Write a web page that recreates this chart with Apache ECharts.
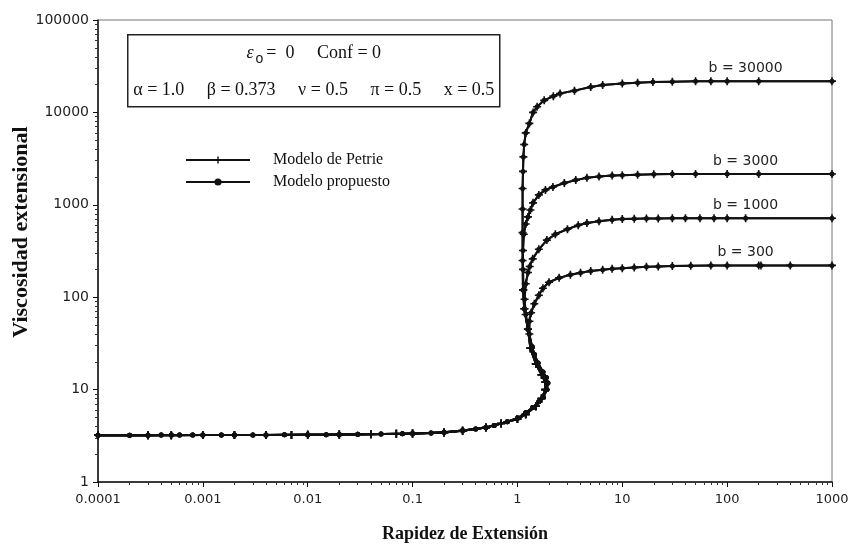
<!DOCTYPE html>
<html>
<head>
<meta charset="utf-8">
<script src="https://cdn.jsdelivr.net/npm/echarts@6/dist/echarts.min.js"></script>
<style>
	html, body { margin: 0; padding: 0; background: #fff; }
	#chart { width: 848px; height: 548px; }
</style>
</head>
<body>
<div id="chart"></div>
<script>
	// tick labels
	var xTicks = ['0.0001', '0.001', '0.01', '0.1', '1', '10', '100', '1000'];
	var yTicks = ['1', '10', '100', '1000', '10000', '100000'];
	var bLabels = ['b = 300', 'b = 1000', 'b = 3000', 'b = 30000'];

	// common lower branch (flat part and S bend)
	var stemPropuesto = [[0.0001,3.2],[0.0002,3.2],[0.0003,3.21],[0.0004,3.22],[0.0005,3.22],[0.0006,3.22],[0.0008,3.22],
		[0.001,3.23],[0.0015,3.23],[0.002,3.23],[0.003,3.23],[0.004,3.23],[0.006,3.24],[0.01,3.25],[0.015,3.25],
		[0.02,3.27],[0.03,3.28],[0.05,3.3],[0.08,3.33],[0.1,3.35],[0.15,3.4],[0.2,3.45],[0.3,3.6],[0.4,3.75],
		[0.5,3.9],[0.6,4.1],[0.8,4.5],[1.0,4.9],[1.2,5.6],[1.4,6.4],[1.6,7.4],[1.76,8.3],[1.9,10],[1.95,11.8],
		[1.88,13.5],[1.75,15.5],[1.57,19.4],[1.45,24],[1.38,29]];
	var stemPetrie = [[0.0001,3.2],[0.0003,3.2],[0.0005,3.21],[0.001,3.22],[0.002,3.22],[0.004,3.23],[0.007,3.23],
		[0.01,3.24],[0.02,3.26],[0.04,3.29],[0.07,3.32],[0.1,3.34],[0.2,3.44],[0.3,3.58],[0.5,3.88],[0.7,4.3],
		[1.0,4.8],[1.2,5.4],[1.5,6.6],[1.7,8],[1.85,10],[1.85,12],[1.7,14.5],[1.5,19],[1.33,28]];

	// upper branches, one per b
	var b300Tail = [[1.3,40],[1.3,55],[1.35,68],[1.45,85],[1.6,105],[1.75,125],[2.0,145],[2.5,162],[3.2,175],[4,184],
		[5,192],[6.5,198],[8,203],[10,206],[13,210],[17,213],[22,215],[30,217],[45,219],[70,220],[100,220],
		[200,221],[210,221],[400,221],[1000,221]];
	var b1000Tail = [[1.26,45],[1.2,65],[1.17,95],[1.2,140],[1.26,185],[1.31,215],[1.4,260],[1.6,330],[1.91,415],
		[2.3,480],[3,545],[3.8,600],[4.6,635],[6,665],[8,690],[10,700],[13,706],[17,710],[22,712],[30,714],
		[40,715],[55,715],[75,716],[100,716],[150,716],[1000,715]];
	var b3000Tail = [[1.26,45],[1.17,75],[1.14,120],[1.13,200],[1.13,320],[1.15,480],[1.2,620],[1.26,740],[1.33,880],
		[1.41,1050],[1.6,1280],[1.85,1450],[2.18,1560],[2.8,1720],[3.6,1850],[4.6,1960],[6,2020],[8,2070],
		[10,2090],[14,2120],[20,2140],[30,2150],[50,2155],[100,2155],[200,2160],[1000,2155]];
	var b30000Tail = [[1.26,45],[1.16,75],[1.13,120],[1.12,250],[1.12,500],[1.12,900],[1.12,1500],[1.13,2300],
		[1.14,3300],[1.16,4500],[1.2,6000],[1.3,7600],[1.41,10000],[1.54,11500],[1.8,13500],[2.2,15000],
		[2.55,16000],[3.5,17200],[5,18800],[6.5,19800],[10,20600],[14,21000],[19.6,21300],[30,21500],
		[50,21700],[70,21800],[100,21800],[200,21800],[1000,21800]];

	var tails = [b300Tail, b1000Tail, b3000Tail, b30000Tail];
	var plateaus = [221, 715, 2155, 21800];

	var crossPath = 'path://M4,0H6V4H10V6H6V10H4V6H0V4H4Z';
	var series = [];
	tails.forEach(function(tail, i) {
		series.push({
			name: 'Modelo de Petrie',
			type: 'line',
			data: stemPetrie.concat(tail),
			symbol: crossPath,
			symbolSize: 8,
			showAllSymbol: true,
			lineStyle: { color: '#111', width: 2 },
			itemStyle: { color: '#111' },
			z: 2
		});
		series.push({
			name: 'Modelo propuesto',
			type: 'line',
			data: stemPropuesto.concat(tail),
			symbol: 'circle',
			symbolSize: 5,
			showAllSymbol: true,
			lineStyle: { color: '#111', width: 2 },
			itemStyle: { color: '#111' },
			z: 3,
			markPoint: {
				symbol: 'circle',
				symbolSize: 0,
				label: {
					show: true,
					position: 'top',
					distance: 6,
					formatter: bLabels[i],
					fontFamily: 'DejaVu Sans',
					fontSize: 14,
					color: '#222'
				},
				data: [{ coord: [150, plateaus[i]] }]
			}
		});
	});

	var chart = echarts.init(document.getElementById('chart'));
	var option = {
		animation: false,
		backgroundColor: '#fff',
		grid: {
			left: 98, right: 16, top: 20, bottom: 66,
			outerBoundsMode: 'none',
			containLabel: false,
			show: true, borderColor: '#777', borderWidth: 1
		},
		legend: {
			data: ['Modelo de Petrie', 'Modelo propuesto'],
			orient: 'vertical',
			left: 180,
			top: 147,
			itemWidth: 64,
			itemHeight: 9,
			itemGap: 6,
			selectedMode: false,
			textStyle: { fontFamily: 'Liberation Serif', fontSize: 16, color: '#111', padding: [0, 0, 0, 18] }
		},
		xAxis: {
			type: 'log',
			logBase: 10,
			min: 0.0001,
			max: 1000,
			name: 'Rapidez de Extensión',
			nameLocation: 'middle',
			nameGap: 43,
			nameTextStyle: { fontFamily: 'Liberation Serif', fontWeight: 'bold', fontSize: 18, color: '#111' },
			axisLine: { lineStyle: { color: '#111', width: 1.5 } },
			axisTick: { length: 5, lineStyle: { color: '#111' } },
			minorTick: { show: true, splitNumber: 9, length: 3, lineStyle: { color: '#333' } },
			splitLine: { show: false },
			axisLabel: {
				fontFamily: 'DejaVu Sans', fontSize: 13, color: '#222', margin: 11,
				formatter: function(v) { return xTicks[Math.round(Math.log10(v)) + 4]; }
			}
		},
		yAxis: {
			type: 'log',
			logBase: 10,
			min: 1,
			max: 100000,
			axisLine: { lineStyle: { color: '#111', width: 1.5 } },
			axisTick: { length: 5, lineStyle: { color: '#111' } },
			minorTick: { show: true, splitNumber: 9, length: 3, lineStyle: { color: '#333' } },
			splitLine: { show: false },
			axisLabel: {
				fontFamily: 'DejaVu Sans', fontSize: 14, color: '#222', margin: 9,
				formatter: function(v) { return yTicks[Math.round(Math.log10(v))]; }
			}
		},
		graphic: [{
			type: 'text',
			x: 21,
			y: 232,
			rotation: Math.PI / 2,
			style: {
				text: 'Viscosidad extensional',
				align: 'center', verticalAlign: 'middle',
				fontFamily: 'Liberation Serif', fontWeight: 'bold', fontSize: 22, fill: '#111'
			}
		}, {
			type: 'group',
			left: 127,
			top: 34,
			children: [{
				type: 'rect',
				shape: { x: 0, y: 0, width: 372, height: 72 },
				style: { fill: '#fff', stroke: '#222', lineWidth: 1.5 }
			}, {
				type: 'text',
				x: 186, y: 19,
				style: {
					text: '{g|ε}{s|o}{t|=  0     Conf = 0}',
					align: 'center', verticalAlign: 'middle',
					rich: {
						g: { fontFamily: 'Liberation Serif', fontStyle: 'italic', fontSize: 18, fill: '#111' },
						s: { fontFamily: 'Liberation Sans', fontSize: 14, fill: '#111', padding: [11, 3, 0, 2] },
						t: { fontFamily: 'Liberation Serif', fontSize: 18, fill: '#111' }
					}
				}
			}, {
				type: 'text',
				x: 186, y: 56,
				style: {
					text: 'α = 1.0     β = 0.373     ν = 0.5     π = 0.5     x = 0.5',
					align: 'center', verticalAlign: 'middle',
					fontFamily: 'Liberation Serif', fontSize: 18, fill: '#111'
				}
			}]
		}],
		series: series
	};
	chart.setOption(option);
</script>
</body>
</html>
